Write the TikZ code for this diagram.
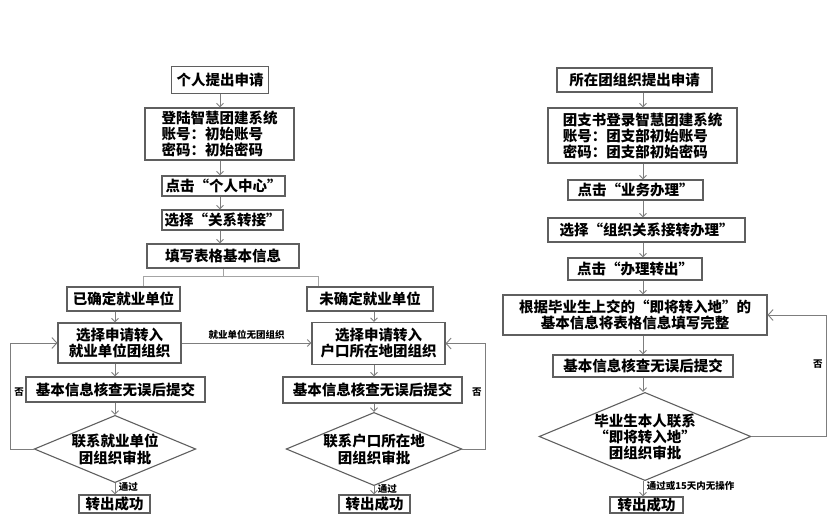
\documentclass[tikz,border=0pt]{standalone}
\usepackage{fontspec}
\setmainfont{Noto Sans CJK SC}
\usetikzlibrary{arrows.meta,shapes.geometric}
\definecolor{linegray}{RGB}{125,125,125}
\definecolor{boxgray}{RGB}{95,95,95}
\begin{document}
\begin{tikzpicture}[x=1pt,y=-1pt,
  box/.style={draw=boxgray,line width=1.1pt,inner sep=0pt,font=\fontsize{14.5}{16}\selectfont\bfseries},
  choice/.style={diamond,draw=boxgray,line width=1.1pt,inner sep=0pt,aspect=2.4,align=center,font=\fontsize{14.5}{17}\selectfont\bfseries},
  arr/.style={draw=linegray,line width=0.9pt,-{Straight Barb[length=3.5pt,width=7pt]}},
  back/.style={draw=linegray,line width=0.9pt,-{Straight Barb[length=5pt,width=11pt]}},
  line/.style={draw=linegray!70,line width=0.8pt},
  small/.style={font=\fontsize{9.5}{11}\selectfont\bfseries}]
%
\useasboundingbox (0,0) rectangle (828,528);

% left column
\node [box,minimum width=97,minimum height=27]  (A1) at (220,80)    {个人提出申请};
\node [box,minimum width=149,minimum height=52,align=left] (A2) at (219.5,134)
  {登陆智慧团建系统\\账号：初始账号\\密码：初始密码};
\node [box,minimum width=123,minimum height=20] (A3) at (223.5,186) {点击“个人中心”};
\node [box,minimum width=121,minimum height=20] (A4) at (222.5,220) {选择“关系转接”};
\node [box,minimum width=152,minimum height=24] (A5) at (223,256)   {填写表格基本信息};

\coordinate (SL) at (143,276);
\coordinate (SR) at (318,276);

\node [box,minimum width=113,minimum height=24] (B1) at (123.5,299) {已确定就业单位};
\node [box,minimum width=123,minimum height=40,align=center] (B2) at (119.5,343)
  {选择申请转入\\就业单位团组织};
\node [box,minimum width=179,minimum height=25] (B3) at (115.5,389.5) {基本信息核查无误后提交};
\node [choice,minimum width=160,minimum height=66] (B4) at (115,449) {联系就业单位\\团组织审批};
\node [box,minimum width=71,minimum height=18]  (B5) at (114.5,504) {转出成功};

\node [box,minimum width=126,minimum height=24] (C1) at (370,299) {未确定就业单位};
\node [box,minimum width=133,minimum height=42,align=center] (C2) at (378.5,343.5)
  {选择申请转入\\户口所在地团组织};
\node [box,minimum width=179,minimum height=26] (C3) at (372.5,390) {基本信息核查无误后提交};
\node [choice,minimum width=160,minimum height=66] (C4) at (374,449) {联系户口所在地\\团组织审批};
\node [box,minimum width=71,minimum height=18]  (C5) at (374.5,504) {转出成功};

% right column
\node [box,minimum width=155,minimum height=24] (D1) at (634.5,80) {所在团组织提出申请};
\node [box,minimum width=189,minimum height=55,align=left] (D2) at (642.5,135.5)
  {团支书登录智慧团建系统\\账号：团支部初始账号\\密码：团支部初始密码};
\node [box,minimum width=135,minimum height=20] (D3) at (635.5,190) {点击“业务办理”};
\node [box,minimum width=197,minimum height=24] (D4) at (646.5,230) {选择“组织关系接转办理”};
\node [box,minimum width=134,minimum height=22] (D5) at (635,269)   {点击“办理转出”};
\node [box,minimum width=264,minimum height=40,align=center] (D6) at (635,315)
  {根据毕业生上交的“即将转入地”的\\基本信息将表格信息填写完整};
\node [box,minimum width=180,minimum height=22] (D7) at (643,366) {基本信息核查无误后提交};
\node [choice,minimum width=177,minimum height=87,font=\fontsize{14.5}{16}\selectfont\bfseries] (D8) at (645,436.5)
  {毕业生本人联系\\“即将转入地”\\团组织审批};
\node [box,minimum width=73,minimum height=16]  (D9) at (646.5,505) {转出成功};

% arrows, left
\draw [arr] (A1.south) -- (A1.south |- A2.north);
\draw [arr] (A2.south -| A1) -- (A3.north -| A1);
\draw [arr] (A3.south -| A1) -- (A4.north -| A1);
\draw [arr] (A4.south -| A1) -- (A5.north -| A1);
\draw [line] (A5.south -| A5) -- (A5 |- SL);
\draw [line] (SL) -- (SR);
\draw [line] (SL) -- (SL |- B1.north);
\draw [line] (SR) -- (SR |- C1.north);

\draw [arr] (B1.south -| B4) -- (B2.north -| B4);
\draw [arr] (B2.south -| B4) -- (B3.north -| B4);
\draw [arr] (B3.south -| B4) -- (B4.north);
\draw [arr] (B4.south) -- node[small,right,pos=0.35]{通过} (B5.north -| B4);
\draw [back] (B4.west) -- ++(-23,0) |- node[small,pos=0.27,right]{否} (B2.west);

\draw [arr] (B2.east) -- node[small,above]{就业单位无团组织} (B2.east -| C2.west);

\draw [arr] (C1.south -| C4) -- (C2.north -| C4);
\draw [arr] (C2.south -| C4) -- (C3.north -| C4);
\draw [arr] (C3.south -| C4) -- (C4.north);
\draw [arr] (C4.south) -- node[small,right,pos=0.35]{通过} (C5.north -| C4);
\draw [back] (C4.east) -- ++(23,0) |- node[small,pos=0.27,left]{否} (C2.east);

% arrows, right
\draw [arr] (D1.south -| D7) -- (D2.north -| D7);
\draw [arr] (D2.south -| D7) -- (D3.north -| D7);
\draw [arr] (D3.south -| D7) -- (D4.north -| D7);
\draw [arr] (D4.south -| D7) -- (D5.north -| D7);
\draw [arr] (D5.south -| D7) -- (D6.north -| D7);
\draw [arr] (D6.south -| D7) -- (D7.north);
\draw [arr] (D7.south) -- (D8.north -| D7);
\draw [arr] (D8.south -| D7) -- node[small,right,pos=0.3]{通过或15天内无操作} (D9.north -| D7);
\draw [back] (D8.east) -- ++(75,0) |- node[small,pos=0.3,left]{否} (D6.east);

\end{tikzpicture}
\end{document}
